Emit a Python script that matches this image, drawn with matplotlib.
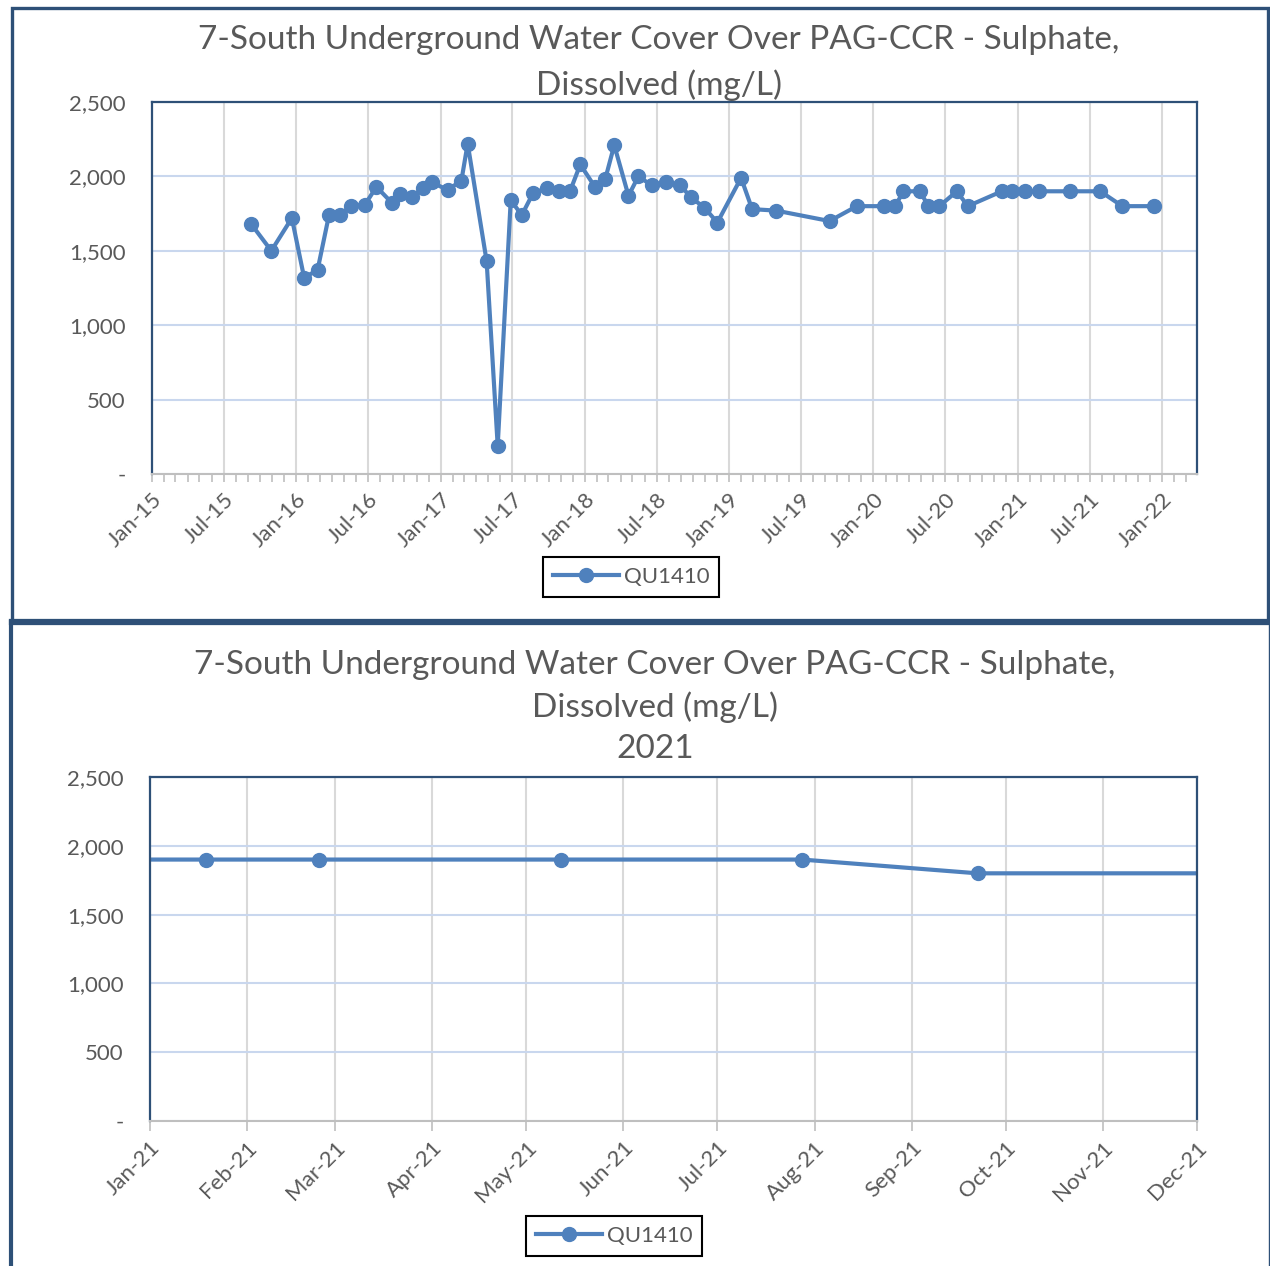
import matplotlib
matplotlib.use("Agg")
import matplotlib.pyplot as plt
import matplotlib.dates as mdates
from matplotlib.ticker import FuncFormatter
from matplotlib.patches import Rectangle
from matplotlib.lines import Line2D
import numpy as np

plt.rcParams["font.family"] = ["Lato", "DejaVu Sans"]

# sample dates and dissolved sulphate (mg/L) for QU1410
sample_dates = [
    "2015-09-09", "2015-10-30", "2015-12-21", "2016-01-21", "2016-02-24",
    "2016-03-24", "2016-04-20", "2016-05-18", "2016-06-23", "2016-07-22",
    "2016-08-31", "2016-09-20", "2016-10-19", "2016-11-16", "2016-12-09",
    "2017-01-18", "2017-02-22", "2017-03-10", "2017-04-27", "2017-05-25",
    "2017-06-27", "2017-07-25", "2017-08-23", "2017-09-26", "2017-10-26",
    "2017-11-24", "2017-12-20", "2018-01-26", "2018-02-21", "2018-03-16",
    "2018-04-21", "2018-05-16", "2018-06-19", "2018-07-25", "2018-08-30",
    "2018-09-26", "2018-10-30", "2018-12-02", "2019-01-31", "2019-02-28",
    "2019-04-30", "2019-09-12", "2019-11-20", "2020-01-28", "2020-02-25",
    "2020-03-17", "2020-04-28", "2020-05-19", "2020-06-16", "2020-07-30",
    "2020-08-27", "2020-11-21", "2020-12-16", "2021-01-19", "2021-02-24",
    "2021-05-12", "2021-07-28", "2021-09-22", "2021-12-11",
]
sulphate = [
    1680, 1500, 1720, 1320, 1370,
    1740, 1740, 1800, 1810, 1930,
    1820, 1880, 1860, 1920, 1960,
    1910, 1970, 2220, 1430, 190,
    1840, 1740, 1890, 1920, 1900,
    1900, 2080, 1930, 1980, 2210,
    1870, 2000, 1940, 1960, 1940,
    1860, 1790, 1690, 1990, 1780,
    1770, 1700, 1800, 1800, 1800,
    1900, 1900, 1800, 1800, 1900,
    1800, 1900, 1900, 1900, 1900,
    1900, 1900, 1800, 1800,
]
series_name = "QU1410"
title_main = "7-South Underground Water Cover Over PAG-CCR - Sulphate,\nDissolved (mg/L)"
title_2021 = "7-South Underground Water Cover Over PAG-CCR - Sulphate,\nDissolved (mg/L)\n2021"

W, H = 1270, 1266
LINE = "#4F81BD"
NAVY = "#2E5077"
GREY_TXT = "#595959"

dates = np.array(sample_dates, dtype="datetime64[D]")


def yfmt(v, pos):
    return "-" if v == 0 else f"{int(v):,}"


def px_axes(fig, left, top, right, bottom):
    return fig.add_axes([left / W, 1 - bottom / H, (right - left) / W, (bottom - top) / H])


def style_axes(ax):
    for s in ("left", "top", "right"):
        ax.spines[s].set_color(NAVY)
        ax.spines[s].set_linewidth(1.6)
    ax.spines["bottom"].set_color("#BFBFBF")
    ax.spines["bottom"].set_linewidth(1.5)
    ax.set_ylim(0, 2500)
    ax.set_yticks([0, 500, 1000, 1500, 2000, 2500])
    ax.yaxis.set_major_formatter(FuncFormatter(yfmt))
    ax.tick_params(axis="y", length=0, pad=19, labelsize=16, labelcolor=GREY_TXT)
    ax.tick_params(axis="x", which="both", color="#BFBFBF", labelsize=16,
                   labelcolor=GREY_TXT, direction="out")
    ax.grid(axis="y", color="#C9D7EE", linewidth=1.5)
    ax.grid(axis="x", which="major", color="#D9D9D9", linewidth=1.5)
    ax.set_axisbelow(True)
    for lab in ax.get_xticklabels():
        lab.set_rotation(45)
        lab.set_ha("right")
        lab.set_rotation_mode("anchor")


def draw_series(ax):
    ax.plot(dates, sulphate, color=LINE, linewidth=3, marker="o",
            markersize=10, markerfacecolor=LINE, markeredgecolor=LINE,
            label=series_name, clip_on=True, solid_joinstyle="round")


def add_legend(ax, cx, cy):
    leg = ax.legend(loc="center", bbox_to_anchor=(cx / W, 1 - cy / H),
                    bbox_transform=fig.transFigure, fancybox=False, framealpha=1,
                    edgecolor="black", fontsize=16, labelcolor=GREY_TXT,
                    handlelength=3, borderpad=0.45, handletextpad=0.2)
    leg.get_frame().set_linewidth(1.5)


fig = plt.figure(figsize=(W / 100, H / 100), dpi=100)

# ---- top chart: full record ----
ax1 = px_axes(fig, 152, 102, 1197, 474)
draw_series(ax1)
ax1.set_xlim(np.datetime64("2015-01-01"), np.datetime64("2022-03-30"))
ax1.xaxis.set_major_locator(mdates.MonthLocator(bymonth=[1, 7]))
ax1.xaxis.set_minor_locator(mdates.MonthLocator())
ax1.xaxis.set_major_formatter(mdates.DateFormatter("%b-%y"))
ax1.tick_params(axis="x", which="major", length=6, width=1.2, pad=5)
ax1.tick_params(axis="x", which="minor", length=6, width=1.2)
style_axes(ax1)
add_legend(ax1, 631, 577)
fig.text(659 / W, 1 - 63 / H, title_main, ha="center", va="center",
         fontsize=24, color=GREY_TXT, linespacing=1.55)

# ---- bottom chart: 2021 ----
ax2 = px_axes(fig, 150, 777, 1197, 1121)
draw_series(ax2)
ax2.set_xlim(np.datetime64("2021-01-01"), np.datetime64("2021-12-01"))
ax2.xaxis.set_major_locator(mdates.MonthLocator())
ax2.xaxis.set_major_formatter(mdates.DateFormatter("%b-%y"))
ax2.tick_params(axis="x", which="major", length=7, width=1.2, pad=5)
style_axes(ax2)
add_legend(ax2, 614, 1236)
fig.text(655 / W, 1 - 707 / H, title_2021, ha="center", va="center",
         fontsize=24, color=GREY_TXT, linespacing=1.45)

# ---- outer chart frames ----
fig.add_artist(Rectangle((11.5 / W, 1 - 621 / H), 1256.5 / W, 613 / H,
                         transform=fig.transFigure, fill=False,
                         edgecolor=NAVY, linewidth=2.4))
fig.add_artist(Line2D([11.5 / W, 1268 / W], [1 - 622 / H, 1 - 622 / H],
                      transform=fig.transFigure, color=NAVY, linewidth=4.5))
fig.add_artist(Line2D([11 / W, 11 / W], [1 - 622 / H, 0],
                      transform=fig.transFigure, color=NAVY, linewidth=3))
fig.add_artist(Line2D([1268.5 / W, 1268.5 / W], [1 - 622 / H, 0],
                      transform=fig.transFigure, color=NAVY, linewidth=1))

fig.savefig("out.png", dpi=100)
